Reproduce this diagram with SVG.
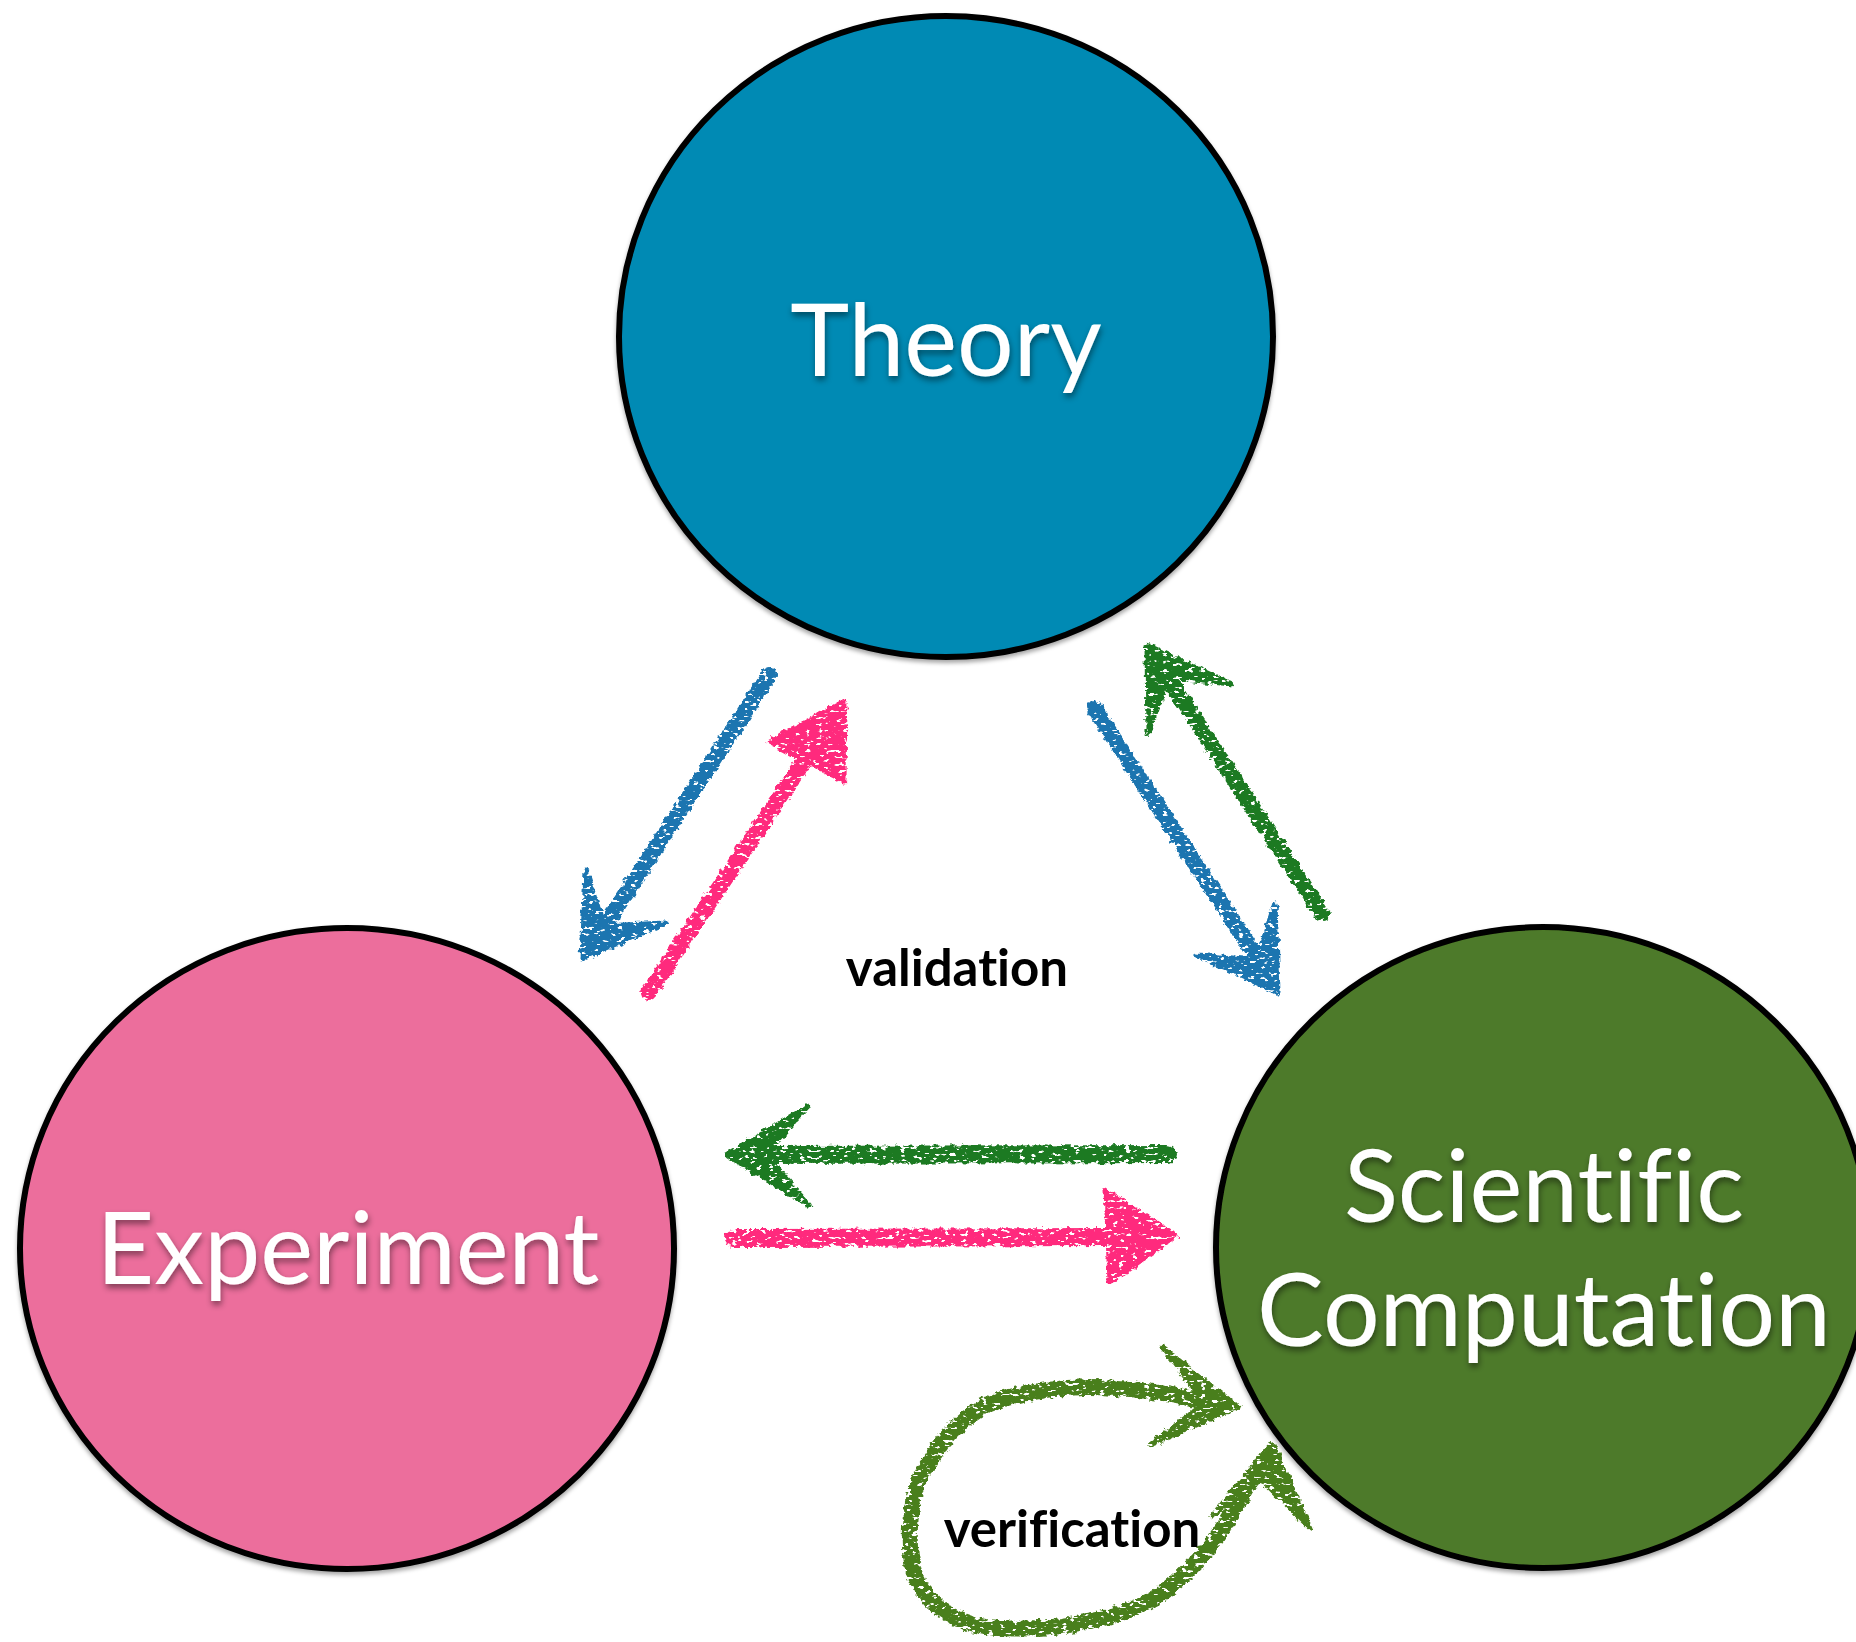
<svg xmlns="http://www.w3.org/2000/svg" width="1856" height="1642" viewBox="0 0 1856 1642">
<defs>
<style>
.node ellipse{stroke:#000;stroke-width:6}
.big{font-family:Lato,"Open Sans","Liberation Sans",sans-serif;font-size:100px;fill:#fff;text-anchor:middle;filter:url(#tshadow);font-variant-ligatures:none;font-feature-settings:"liga" 0,"dlig" 0}
.lbl{font-family:Lato,"Liberation Sans",sans-serif;font-weight:bold;font-size:51px;fill:#000;text-anchor:middle;font-variant-ligatures:none;font-feature-settings:"liga" 0,"dlig" 0}
.shaft{fill:none;stroke-linecap:round;stroke-linejoin:round}
.blue{stroke:#1b75b0;fill:#1b75b0}
.pink{stroke:#ff2b7d;fill:#ff2b7d}
.dgreen{stroke:#1c7a22;fill:#1c7a22}
.olive{stroke:#4a7f1c;fill:#4a7f1c}
.head{stroke-width:5;stroke-linejoin:round}
</style>
<filter id="cshadow" x="-10%" y="-10%" width="120%" height="120%">
<feDropShadow dx="0" dy="3" stdDeviation="2" flood-color="#000" flood-opacity="0.35"/>
</filter>
<filter id="tshadow" x="-10%" y="-20%" width="120%" height="140%">
<feDropShadow dx="1" dy="4" stdDeviation="3" flood-color="#000" flood-opacity="0.45"/>
</filter>
<filter id="crayon" filterUnits="userSpaceOnUse" x="0" y="0" width="1856" height="1642">
<feTurbulence type="fractalNoise" baseFrequency="0.18" numOctaves="3" seed="4" result="n"/>
<feDisplacementMap in="SourceGraphic" in2="n" scale="7" xChannelSelector="R" yChannelSelector="G" result="d"/>
<feTurbulence type="fractalNoise" baseFrequency="0.16 0.3" numOctaves="2" seed="11" result="n2"/>
<feColorMatrix in="n2" type="matrix" values="0 0 0 0 0  0 0 0 0 0  0 0 0 0 0  -16 0 0 0 11" result="mask"/>
<feComposite in="d" in2="mask" operator="in"/>
</filter>
</defs>
<rect width="1856" height="1642" fill="#fff"/>

<g id="theory" class="node">
<ellipse cx="946" cy="336.5" rx="327" ry="320.5" fill="#028ab4" filter="url(#cshadow)"/>
<text class="big" x="946" y="376">Theory</text>
</g>
<g id="experiment" class="node">
<ellipse cx="347" cy="1248.5" rx="327" ry="320.5" fill="#ec6e9c" filter="url(#cshadow)"/>
<text class="big" x="348" y="1284">Experiment</text>
</g>
<g id="scientific-computation" class="node">
<ellipse cx="1543" cy="1247.5" rx="327" ry="320.5" fill="#4e7a2a" filter="url(#cshadow)"/>
<text class="big" x="1544" y="1222">Scientific</text>
<text class="big" x="1544" y="1346">Computation</text>
</g>

<g id="connectors" filter="url(#crayon)">
<g id="theory-to-experiment" class="blue">
<path class="shaft" stroke-width="16" d="M769,675 L605,925"/>
<polygon class="head" points="582,959 586,870 604,926 666,923"/>
</g>
<g id="experiment-to-theory" class="pink">
<path class="shaft" stroke-width="16" d="M649,992 L815,745"/>
<polygon class="head" points="845,701 769,742 844,781"/>
</g>
<g id="theory-to-computation" class="blue">
<path class="shaft" stroke-width="16" d="M1094,708 L1257,958"/>
<polygon class="head" points="1278,992 1196,955 1257,960 1275,903"/>
</g>
<g id="computation-to-theory" class="dgreen">
<path class="shaft" stroke-width="16" d="M1322,914 L1168,678"/>
<polygon class="head" points="1147,645 1148,734 1168,677 1231,684"/>
</g>
<g id="computation-to-experiment" class="dgreen">
<path class="shaft" stroke-width="18" d="M1168,1154 L766,1155"/>
<polygon class="head" points="727,1155 807,1107 765,1155 809,1205"/>
</g>
<g id="experiment-to-computation" class="pink">
<path class="shaft" stroke-width="18" d="M734,1238 L1110,1237"/>
<polygon class="head" points="1176,1236 1106,1190 1110,1282"/>
</g>
<g id="verification-loop" class="olive">
<path class="shaft" stroke-width="16" d="M1262,1462 C1240,1500 1210,1560 1160,1595 C1110,1625 1040,1632 985,1627 C950,1622 925,1600 915,1575 C905,1545 910,1490 925,1468 C945,1435 968,1410 1000,1400 C1050,1385 1110,1380 1206,1402"/>
<polygon class="head" points="1238,1407 1163,1348 1205,1403 1150,1445"/>
<polygon class="head" points="1272,1443 1213,1515 1262,1480 1310,1528"/>
</g>
</g>

<text class="lbl" x="957" y="986">validation</text>
<text class="lbl" x="1072" y="1547">verification</text>
</svg>
